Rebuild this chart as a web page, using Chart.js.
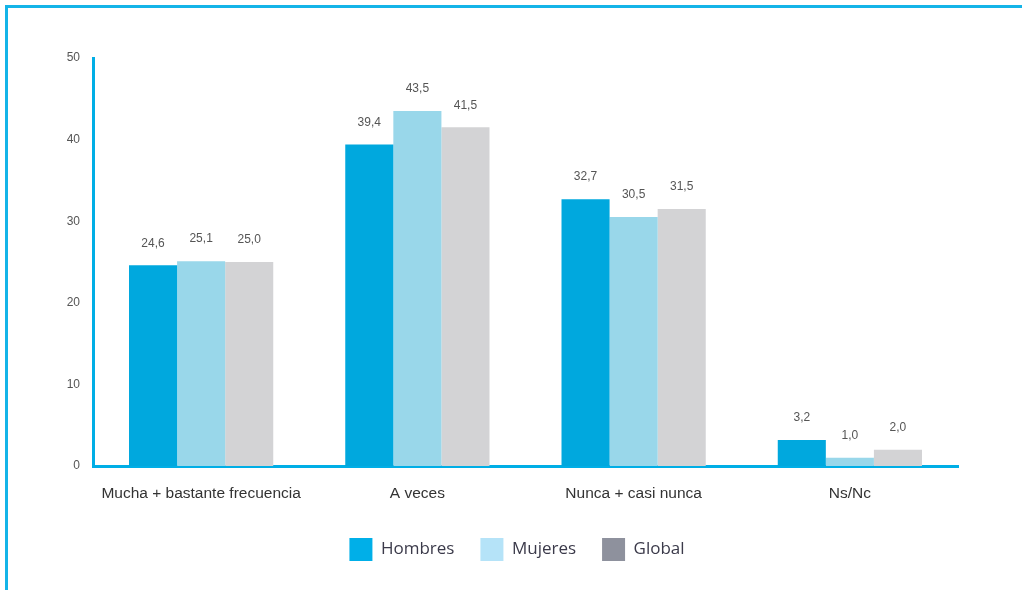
<!DOCTYPE html>
<html>
<head>
<meta charset="utf-8">
<script src="https://cdn.jsdelivr.net/npm/chart.js@4.4.0/dist/chart.umd.min.js"></script>
<style>
  html, body { margin: 0; padding: 0; background: #fff; }
  #wrap { position: relative; width: 1022px; height: 590px; overflow: hidden; }
  #frame { position: absolute; left: 5px; top: 5px; width: 1100px; height: 700px;
           border-top: 3px solid #14b4e8; border-left: 3px solid #14b4e8; pointer-events: none; }
  canvas { position: absolute; left: 0; top: 0; }
</style>
</head>
<body>
<div id="wrap">
  <canvas id="myChart1" width="1022" height="590"></canvas>
  <div id="frame"></div>
</div>
<script>
var categories = ["Mucha + bastante frecuencia", "A veces", "Nunca + casi nunca", "Ns/Nc"];
var hombres = [24.6, 39.4, 32.7, 3.2];
var mujeres = [25.1, 43.5, 30.5, 1.0];
var global_v = [25.0, 41.5, 31.5, 2.0];
var yTicks = [0, 10, 20, 30, 40, 50];

// legend swatches use slightly different colours than the bars
var legendColors = ['#00afe8', '#b5e3f8', '#8e919d'];

var valueLabels = {
    id: 'valueLabels',
    afterDatasetsDraw: function(chart) {
        var ctx = chart.ctx;
        ctx.save();
        ctx.font = '12px "Liberation Sans", Arial, sans-serif';
        ctx.fillStyle = '#555555';
        ctx.textAlign = 'center';
        ctx.textBaseline = 'middle';
        chart.data.datasets.forEach(function(ds, i) {
            var meta = chart.getDatasetMeta(i);
            meta.data.forEach(function(bar, j) {
                var txt = ds.data[j].toFixed(1).replace('.', ',');
                ctx.fillText(txt, bar.x, bar.y - 22);
            });
        });
        ctx.restore();
    }
};

var chartdata = {
    labels: categories,
    datasets: [
        { label: "Hombres", backgroundColor: '#00a8de', data: hombres },
        { label: "Mujeres", backgroundColor: '#99d7ea', data: mujeres },
        { label: "Global", backgroundColor: '#d3d3d5', data: global_v }
    ]
};

var ctx = document.getElementById('myChart1');

var barChart = new Chart(ctx, {
    type: 'bar',
    data: chartdata,
    plugins: [valueLabels],
    options: {
        responsive: false,
        animation: false,
        devicePixelRatio: 1,
        categoryPercentage: 0.667,
        barPercentage: 1.0,
        layout: { padding: { left: 12, right: 0, top: 58, bottom: 19 } },
        plugins: {
            tooltip: { enabled: false },
            legend: {
                position: 'bottom',
                labels: {
                    boxWidth: 23,
                    boxHeight: 23,
                    padding: 26,
                    color: '#3b3a4a',
                    font: { family: '"Open Sans", sans-serif', size: 17 },
                    generateLabels: function(chart) {
                        return chart.data.datasets.map(function(ds, i) {
                            return {
                                text: ds.label,
                                fillStyle: legendColors[i],
                                strokeStyle: legendColors[i],
                                lineWidth: 0,
                                fontColor: '#3b3a4a',
                                datasetIndex: i
                            };
                        });
                    }
                }
            }
        },
        scales: {
            x: {
                grid: { display: false, drawTicks: false },
                border: { display: true, color: '#00aee6', width: 3 },
                ticks: {
                    padding: 18,
                    color: '#333333',
                    font: { family: '"Liberation Sans", Arial, sans-serif', size: 15.5 }
                },
                afterFit: function(scale) { scale.height = 46; }
            },
            y: {
                min: 0,
                max: 50,
                afterBuildTicks: function(scale) {
                    scale.ticks = yTicks.map(function(v) { return { value: v }; });
                },
                grid: { display: false, drawTicks: false },
                border: { display: true, color: '#00aee6', width: 3 },
                ticks: {
                    padding: 13,
                    color: '#555555',
                    font: { family: '"Liberation Sans", Arial, sans-serif', size: 12 }
                },
                afterFit: function(scale) { scale.width = 81; }
            },
            pad: {
                type: 'linear',
                position: 'right',
                grid: { display: false, drawTicks: false },
                border: { display: false },
                ticks: { display: false },
                afterFit: function(scale) { scale.width = 64; }
            }
        }
    }
});
</script>
</body>
</html>
